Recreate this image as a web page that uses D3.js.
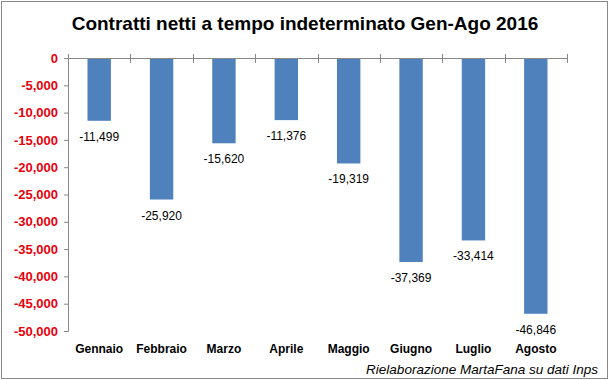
<!DOCTYPE html>
<html lang="it">
<head>
  <meta charset="UTF-8" />
  <title>Contratti netti a tempo indeterminato Gen-Ago 2016</title>
  <script src="https://d3js.org/d3.v7.min.js"></script>
  <style>
    body { margin: 0; background: #fff; }
    svg { display: block; font-family: "Liberation Sans", Arial, sans-serif; }
  </style>
</head>
<body>
  <svg id="chart"></svg>
  <script>
    const mesi = ["Gennaio", "Febbraio", "Marzo", "Aprile", "Maggio", "Giugno", "Luglio", "Agosto"];
    const contratti = [-11499, -25920, -15620, -11376, -19319, -37369, -33414, -46846];
    const yTicks = [0, -5000, -10000, -15000, -20000, -25000, -30000, -35000, -40000, -45000, -50000];

    const W = 610, H = 380;
    const plot = { left: 68, right: 567, top: 58, bottom: 331 };

    // trattino semplice come segno meno, come in Excel
    const fmt = d3.formatLocale({ decimal: ".", thousands: ",", grouping: [3], currency: ["", ""], minus: "-" })
                  .format(",");

    const svg = d3.select("#chart").attr("width", W).attr("height", H);

    // cornice
    svg.append("rect")
       .attr("x", 1.5).attr("y", 1.5)
       .attr("width", 606).attr("height", 377)
       .attr("fill", "#fff")
       .attr("stroke", "#888")
       .attr("stroke-width", 1);

    svg.append("text")
       .attr("x", 305).attr("y", 30)
       .attr("text-anchor", "middle")
       .attr("font-size", 19)
       .attr("font-weight", "bold")
       .text("Contratti netti a tempo indeterminato  Gen-Ago 2016");

    const x = d3.scaleBand()
                .domain(mesi)
                .range([plot.left, plot.right])
                .paddingInner(0.625)
                .paddingOuter(0.3125);

    const y = d3.scaleLinear()
                .domain([0, -50000])
                .range([plot.top, plot.bottom]);

    // asse y
    const yAxis = svg.append("g")
       .attr("transform", `translate(${plot.left},0)`)
       .call(d3.axisLeft(y).tickValues(yTicks).tickSize(4).tickPadding(6)
               .tickFormat(fmt));
    yAxis.select(".domain").attr("stroke", "#888");
    yAxis.selectAll(".tick line").attr("stroke", "#888");
    yAxis.selectAll("text")
         .attr("fill", "#e8000b")
         .attr("font-size", 13)
         .attr("font-weight", "bold");

    // barre
    svg.selectAll(".bar")
       .data(mesi)
       .join("rect")
         .attr("class", "bar")
         .attr("x", d => x(d))
         .attr("y", y(0))
         .attr("width", x.bandwidth())
         .attr("height", (d, i) => y(contratti[i]) - y(0))
         .attr("fill", "#4f81bd");

    // linea dello zero con tacche
    svg.append("line")
       .attr("x1", plot.left).attr("x2", plot.right)
       .attr("y1", y(0) + 0.5).attr("y2", y(0) + 0.5)
       .attr("stroke", "#888");

    const step = x.step();
    svg.selectAll(".xtick")
       .data(d3.range(mesi.length + 1))
       .join("line")
         .attr("class", "xtick")
         .attr("x1", i => Math.round(plot.left + i * step) + 0.5)
         .attr("x2", i => Math.round(plot.left + i * step) + 0.5)
         .attr("y1", y(0) - 4)
         .attr("y2", y(0) + 5)
         .attr("stroke", "#888");

    // etichette valori
    svg.selectAll(".val")
       .data(mesi)
       .join("text")
         .attr("class", "val")
         .attr("x", d => x(d) + x.bandwidth() / 2)
         .attr("y", (d, i) => y(contratti[i]) + 20)
         .attr("text-anchor", "middle")
         .attr("font-size", 12)
         .attr("fill", "#000")
         .text((d, i) => fmt(contratti[i]));

    // categorie
    svg.selectAll(".cat")
       .data(mesi)
       .join("text")
         .attr("class", "cat")
         .attr("x", d => x(d) + x.bandwidth() / 2)
         .attr("y", 353)
         .attr("text-anchor", "middle")
         .attr("font-size", 12)
         .attr("font-weight", "bold")
         .text(d => d);

    svg.append("text")
       .attr("x", 598).attr("y", 374)
       .attr("text-anchor", "end")
       .attr("font-size", 13.5)
       .attr("font-style", "italic")
       .text("Rielaborazione MartaFana su dati Inps");
  </script>
</body>
</html>
